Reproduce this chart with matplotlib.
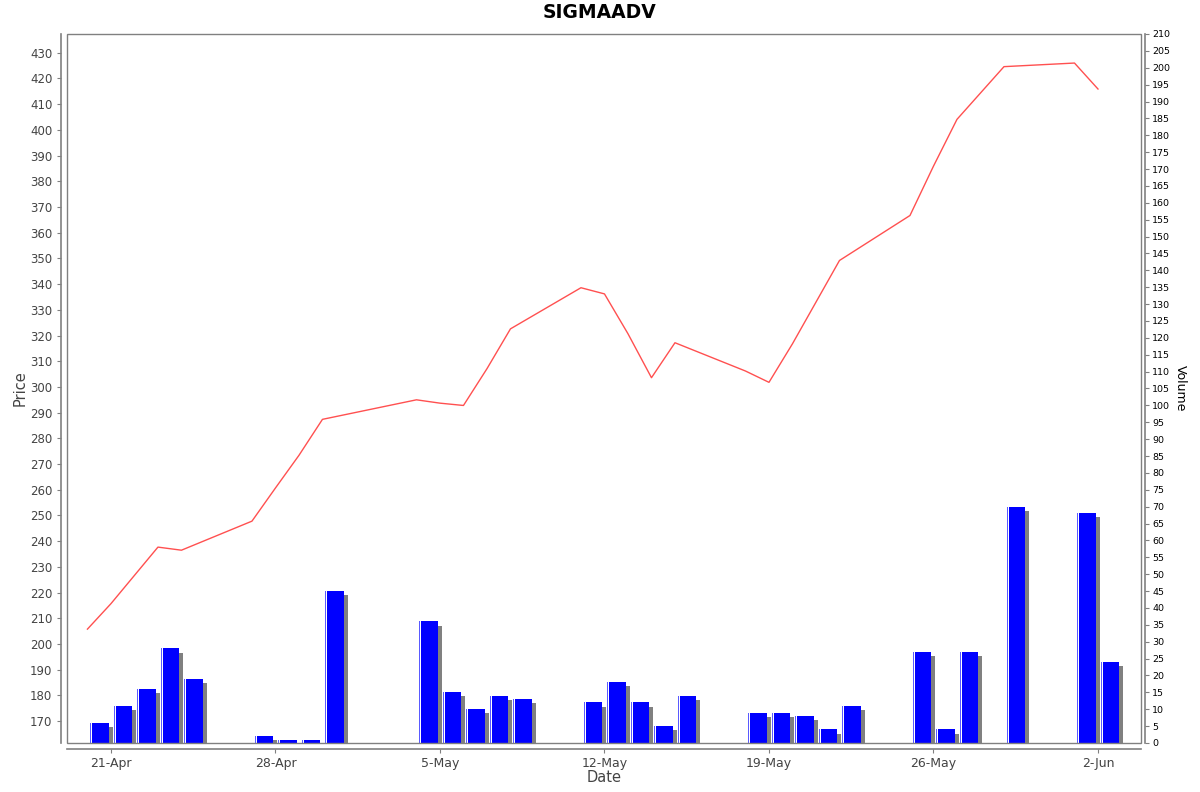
import pandas as pd
import numpy as np
import matplotlib
matplotlib.use("Agg")
import matplotlib.pyplot as plt
import matplotlib.dates as mdates
from matplotlib.ticker import MultipleLocator, FuncFormatter
from matplotlib.patches import Rectangle

# Datos
fechas_precio = ["2025-04-20", "2025-04-21", "2025-04-22", "2025-04-23", "2025-04-24",
                 "2025-04-27", "2025-04-28", "2025-04-29", "2025-04-30",
                 "2025-05-04", "2025-05-05", "2025-05-06", "2025-05-07", "2025-05-08",
                 "2025-05-11", "2025-05-12", "2025-05-13", "2025-05-14", "2025-05-15",
                 "2025-05-18", "2025-05-19", "2025-05-20", "2025-05-21", "2025-05-22",
                 "2025-05-25", "2025-05-26", "2025-05-27", "2025-05-29",
                 "2025-06-01", "2025-06-02"]
precio = [205.8, 215.7, 226.7, 237.7, 236.5,
          247.8, 260.7, 273.4, 287.4,
          295.0, 293.7, 292.8, 307.1, 322.6,
          338.6, 336.2, 320.7, 303.6, 317.2,
          306.2, 301.8, 316.8, 333.0, 349.2,
          366.7, 385.9, 404.1, 424.6,
          426.0, 415.9]

fechas_volumen = ["2025-04-20", "2025-04-21", "2025-04-22", "2025-04-23", "2025-04-24",
                  "2025-04-27", "2025-04-28", "2025-04-29", "2025-04-30",
                  "2025-05-04", "2025-05-05", "2025-05-06", "2025-05-07", "2025-05-08",
                  "2025-05-11", "2025-05-12", "2025-05-13", "2025-05-14", "2025-05-15",
                  "2025-05-18", "2025-05-19", "2025-05-20", "2025-05-21", "2025-05-22",
                  "2025-05-25", "2025-05-26", "2025-05-27", "2025-05-29",
                  "2025-06-01", "2025-06-02"]
volumen = [6, 11, 16, 28, 19,
           2, 1, 1, 45,
           36, 15, 10, 14, 13,
           12, 18, 12, 5, 14,
           9, 9, 8, 4, 11,
           27, 4, 27, 70,
           68, 24]

ticks_fechas = ["2025-04-21", "2025-04-28", "2025-05-05", "2025-05-12",
                "2025-05-19", "2025-05-26", "2025-06-02"]

t_precio = pd.to_datetime(fechas_precio)
t_vol = pd.to_datetime(fechas_volumen)
vol = np.array(volumen, dtype=float)

gris = "#444444"
borde = "#808080"

fig = plt.figure(figsize=(12, 7.92), dpi=100)
ax = fig.add_axes([67 / 1200, 1 - 743 / 792, (1141 - 67) / 1200, (743 - 34) / 792])
ax2 = ax.twinx()

# barras de volumen con sombra
dia = pd.Timedelta(days=1)
x_barra = t_vol + 0.11 * dia
ancho = 0.8
px_dia = 23.5
ax2.bar(x_barra + (4 / px_dia) * dia, np.maximum(vol - 1.2, 0), width=ancho, align="edge",
        color="#808080", edgecolor="none", zorder=1)
ax2.bar(x_barra, vol, width=ancho, align="edge", color="#0000FF", edgecolor="none", zorder=2)
ax2.bar(x_barra, vol, width=1.2 / px_dia, align="edge", color="#5a5aff", edgecolor="none", zorder=3)
ax2.bar(x_barra + (1.2 / px_dia) * dia, vol, width=1.0 / px_dia, align="edge",
        color="white", edgecolor="none", zorder=3)

# linea de precio encima
ax.set_zorder(ax2.get_zorder() + 1)
ax.patch.set_visible(False)
ax.plot(t_precio, precio, color="#FF5050", lw=1.0, zorder=5)

x0 = pd.Timestamp("2025-04-21") - 1.87 * dia
x1 = pd.Timestamp("2025-06-02") + 1.83 * dia
ax.set_xlim(x0, x1)
ax.set_ylim(161.5, 437.3)
ax2.set_ylim(0, 210)

ax.set_xticks(pd.to_datetime(ticks_fechas))
ax.xaxis.set_major_formatter(FuncFormatter(lambda v, p: f"{mdates.num2date(v).day}-{mdates.num2date(v):%b}"))
ax.yaxis.set_major_locator(MultipleLocator(10))
ax2.yaxis.set_major_locator(MultipleLocator(5))

for a in (ax, ax2):
    for s in a.spines.values():
        s.set_visible(False)

ax.spines["left"].set_visible(True)
ax.spines["left"].set_position(("outward", 4))
ax.spines["bottom"].set_visible(True)
ax.spines["bottom"].set_position(("outward", 4))
ax2.spines["right"].set_visible(True)
ax2.spines["right"].set_position(("outward", 3))
for s in (ax.spines["left"], ax.spines["bottom"], ax2.spines["right"]):
    s.set_color(borde)
    s.set_linewidth(1.2)

ax.add_patch(Rectangle((0, 0), 1, 1, transform=ax.transAxes, fill=False,
                       edgecolor=borde, lw=1.0, clip_on=False, zorder=10))

ax.tick_params(axis="both", colors=borde, labelcolor=gris, labelsize=8.5, length=3, width=0.8)
ax.tick_params(axis="x", labelsize=9, pad=3)
ax2.tick_params(axis="y", colors=borde, labelcolor="black", labelsize=6.8, length=3, width=0.8, pad=2)

ax.set_xlabel("Date", fontsize=10.5, color=gris, labelpad=0)
ax.set_ylabel("Price", fontsize=10.5, color=gris, labelpad=2)
ax2.set_ylabel("Volume", fontsize=9, color="black", rotation=270, labelpad=12)

fig.text(0.5, 1 - 13 / 792, "SIGMAADV", ha="center", va="center", fontsize=13.5, fontweight="bold")

fig.savefig("out.png", dpi=100)
